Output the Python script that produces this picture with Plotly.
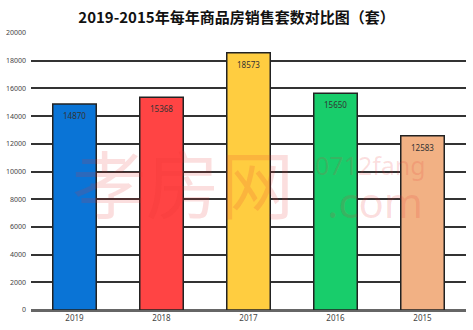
import plotly.graph_objects as go

years = ["2019", "2018", "2017", "2016", "2015"]
sales = [14870, 15368, 18573, 15650, 12583]
colors = ["#0a74d6", "#ff4444", "#ffcd40", "#18cd6b", "#f2b184"]
y_ticks = [0, 2000, 4000, 6000, 8000, 10000, 12000, 14000, 16000, 18000, 20000]
title_text = "2019-2015年每年商品房销售套数对比图（套）"

fig = go.Figure()
fig.add_trace(go.Bar(
    x=years, y=sales,
    marker=dict(color=colors, line=dict(color="#222222", width=1.5)),
    width=0.5,
))

for i, v in enumerate(sales):
    fig.add_annotation(x=i, y=v, text=str(v), showarrow=False, yanchor="top", yshift=-4,
                       font=dict(size=8, color="#333333", family="Noto Sans"))

# watermark
wm = "rgba(232,50,50,0.16)"
fig.add_annotation(xref="paper", yref="paper", x=0.35, y=0.466, text="孝房网",
                   xanchor="center", yanchor="middle",
                   showarrow=False, font=dict(size=74, color=wm, family="Noto Sans CJK SC"))
fig.add_annotation(xref="paper", yref="paper", x=0.78, y=0.525, text="0712fang",
                   xanchor="center", yanchor="middle",
                   showarrow=False, font=dict(size=25, color=wm, family="Noto Sans"))
fig.add_annotation(xref="paper", yref="paper", x=0.79, y=0.39, text=".com",
                   xanchor="center", yanchor="middle",
                   showarrow=False, font=dict(size=42, color=wm, family="Noto Sans"))

fig.update_layout(
    width=473, height=330,
    margin=dict(l=31, r=7, t=33, b=20),
    paper_bgcolor="white", plot_bgcolor="white",
    showlegend=False,
    title=dict(text="<b>" + title_text + "</b>", x=0.5, xanchor="center", y=0.945, yanchor="middle",
               font=dict(size=15, color="#111111", family="Noto Sans CJK SC")),
    xaxis=dict(type="category", categoryorder="array", categoryarray=years,
               showgrid=False, showline=False, ticks="", tickfont=dict(size=8, color="#444444", family="Noto Sans"),
               ticklabelstandoff=2),
    yaxis=dict(range=[0, 20000], tickvals=y_ticks, ticktext=[str(t) for t in y_ticks],
               showgrid=True, gridcolor="#333333", gridwidth=1.5,
               zeroline=True, zerolinecolor="#666666", zerolinewidth=2.5,
               tickfont=dict(size=7, color="#444444", family="Noto Sans"), ticks="", ticklabelstandoff=4),
)

fig.write_html("out.html")
